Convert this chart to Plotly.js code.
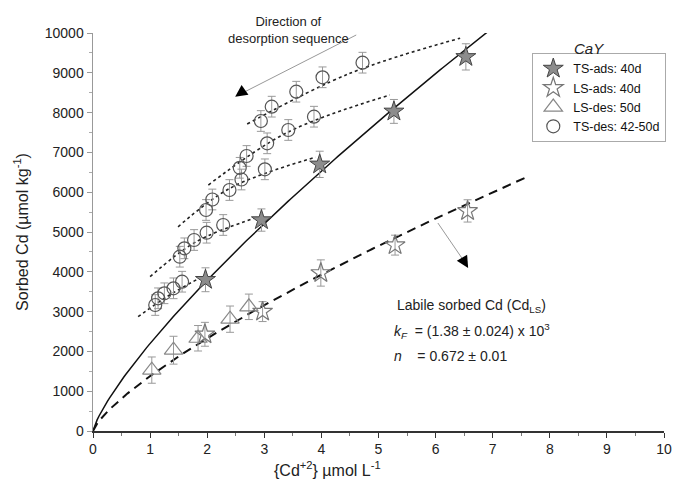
<!DOCTYPE html>
<html>
<head>
<meta charset="utf-8">
<script src="https://cdn.plot.ly/plotly-3.0.1.min.js"></script>
<style>html,body{margin:0;padding:0;background:#fff;}#chart{width:676px;height:492px;}</style>
</head>
<body>
<div id="chart"></div>
<script>
// ---- data ----
const tsAdsX = [1.97, 2.95, 3.97, 5.27, 6.53];
const tsAdsY = [3800, 5300, 6700, 8030, 9400];
const tsAdsErr = [300, 280, 330, 300, 330];

const lsAdsX = [1.96, 2.97, 3.99, 5.29, 6.56];
const lsAdsY = [2430, 3000, 3970, 4670, 5530];
const lsAdsErr = [300, 250, 330, 250, 280];

const lsDesX = [1.03, 1.41, 1.84, 2.40, 2.73];
const lsDesY = [1530, 2030, 2330, 2810, 3120];
const lsDesErr = [330, 350, 320, 330, 320];

const tsDesX = [1.09, 1.14, 1.25, 1.41, 1.56,
                1.52, 1.60, 1.77, 1.99, 2.28,
                1.98, 2.09, 2.39, 2.60, 3.01,
                2.57, 2.69, 3.05, 3.42, 3.87,
                2.94, 3.13, 3.56, 4.02, 4.72];
const tsDesY = [3166, 3334, 3460, 3585, 3751,
                4379, 4590, 4799, 4982, 5176,
                5553, 5817, 6055, 6319, 6575,
                6613, 6910, 7228, 7563, 7897,
                7789, 8149, 8525, 8887, 9254];
const tsDesErr = 260;

// desorption-sequence guide lines (dotted)
const desLineX = [[0.79, 1.30, 1.85], [1.00, 1.80, 2.90], [1.49, 2.40, 3.90], [2.02, 3.40, 5.20], [2.70, 4.50, 6.43]];
const desLineY = [[2872, 3380, 3830], [3877, 4750, 5380], [5130, 6100, 6880], [6180, 7500, 8442], [7713, 8987, 9870]];

// Freundlich fits drawn in the figure
const tsFit = {k: 2200, n: 0.785, xmax: 7.2};
const lsFit = {k: 1380, n: 0.755, xmax: 7.58};

const xTitle = '{Cd<sup>+2</sup>} µmol L<sup>-1</sup>';
const yTitle = 'Sorbed Cd (µmol kg<sup>-1</sup>)';

function fitCurve(f) {
  const xs = [], ys = [];
  for (let i = 0; i <= 200; i++) { const x = f.xmax * i / 200; xs.push(x); ys.push(f.k * Math.pow(x, f.n)); }
  return {x: xs, y: ys};
}

const traces = [];
desLineX.forEach((xs, i) => traces.push({
  x: xs, y: desLineY[i], mode: 'lines', line: {color: '#222', width: 1.6, dash: '3px,3px', shape: 'spline'},
  showlegend: false, hoverinfo: 'skip'
}));
const tsC = fitCurve(tsFit), lsC = fitCurve(lsFit);
traces.push({x: tsC.x, y: tsC.y, mode: 'lines', line: {color: '#111', width: 1.5}, showlegend: false});
traces.push({x: lsC.x, y: lsC.y, mode: 'lines', line: {color: '#111', width: 2, dash: '9px,6px'}, showlegend: false});

const eb = (arr) => ({type: 'data', array: arr, visible: true, color: '#999', thickness: 1, width: 4});
traces.push({x: tsAdsX, y: tsAdsY, name: 'TS-ads: 40d', mode: 'markers', error_y: eb(tsAdsErr),
  marker: {symbol: 'star', size: 15, color: '#8c8c8c', line: {color: '#444', width: 1}}});
traces.push({x: lsAdsX, y: lsAdsY, name: 'LS-ads: 40d', mode: 'markers', error_y: eb(lsAdsErr),
  marker: {symbol: 'star-open', size: 15, color: '#777', line: {width: 1.2}}});
traces.push({x: lsDesX, y: lsDesY, name: 'LS-des: 50d', mode: 'markers', error_y: eb(lsDesErr),
  marker: {symbol: 'triangle-up-open', size: 16, color: '#888', line: {width: 1.2}}});
traces.push({x: tsDesX, y: tsDesY, name: 'TS-des: 42-50d', mode: 'markers',
  error_y: {type: 'constant', value: tsDesErr, visible: true, color: '#999', thickness: 1, width: 4},
  marker: {symbol: 'circle-open', size: 13, color: '#555', line: {width: 1.2}}});

const F = 'Liberation Sans, Arial, sans-serif';
const layout = {
  width: 676, height: 492,
  margin: {l: 93, r: 12, t: 33, b: 61, autoexpand: false},
  paper_bgcolor: '#fff', plot_bgcolor: '#fff',
  font: {family: F, size: 14, color: '#222'},
  showlegend: true,
  legend: {x: 1.004, y: 0.95, xanchor: 'right', yanchor: 'top', bgcolor: '#fff', bordercolor: '#aaa', borderwidth: 1,
    font: {size: 12.5, color: '#111'}, itemwidth: 30, tracegroupgap: 0},
  xaxis: {range: [0, 10], dtick: 1, tick0: 0, ticks: 'outside', ticklen: 5, tickcolor: '#333', showline: true,
    linecolor: '#333', linewidth: 1.5, showgrid: false, zeroline: false, tickfont: {size: 14},
    minor: {dtick: 0.5, ticks: 'outside', ticklen: 3, tickcolor: '#777'}},
  yaxis: {range: [0, 10000], dtick: 1000, tick0: 0, tickformat: 'd', ticks: 'outside', ticklen: 5, tickcolor: '#999', showline: true,
    linecolor: '#999', linewidth: 1.5, showgrid: false, zeroline: false, tickfont: {size: 14},
    title: {text: yTitle, font: {size: 16}, standoff: 12},
    minor: {dtick: 500, ticks: 'outside', ticklen: 3, tickcolor: '#aaa'}},
  shapes: [
    {type: 'line', xref: 'x', yref: 'y', x0: 4.61, y0: 9950, x1: 2.60, y1: 8480, line: {color: '#999', width: 1}},
    {type: 'line', xref: 'x', yref: 'y', x0: 6.04, y0: 5226, x1: 6.52, y1: 4220, line: {color: '#999', width: 1}}
  ],
  annotations: [
    {xref: 'paper', yref: 'paper', x: (327 - 93) / 571, y: -0.065, yanchor: 'top', showarrow: false, text: xTitle, font: {size: 16}},
    {xref: 'x', yref: 'y', x: 2.49, y: 8400, ax: 10, ay: -7, showarrow: true, arrowhead: 2, arrowsize: 1.6, arrowwidth: 1.5, arrowcolor: '#000', text: ''},
    {xref: 'x', yref: 'y', x: 6.57, y: 4095, ax: -6, ay: -10, showarrow: true, arrowhead: 2, arrowsize: 1.6, arrowwidth: 1.5, arrowcolor: '#000', text: ''},
    {xref: 'paper', yref: 'paper', x: (288 - 93) / 571, y: (431 - 12) / 398, showarrow: false, text: 'Direction of<br>desorption sequence', font: {size: 13}},
    {xref: 'paper', yref: 'paper', x: (606 - 93) / 571, y: (431 - 38) / 398, showarrow: false, text: '<i>CaY</i>', font: {size: 15}},
    {xref: 'paper', yref: 'paper', x: (395 - 93) / 571, y: (431 - 317) / 398, xanchor: 'left', showarrow: false, text: 'Labile sorbed Cd (Cd<sub>LS</sub>)', font: {size: 14}},
    {xref: 'paper', yref: 'paper', x: (392 - 93) / 571, y: (431 - 343) / 398, xanchor: 'left', showarrow: false, text: '<i>k<sub>F</sub></i>  = (1.38 ± 0.024) x 10<sup>3</sup>', font: {size: 14}},
    {xref: 'paper', yref: 'paper', x: (392 - 93) / 571, y: (431 - 366) / 398, xanchor: 'left', showarrow: false, text: '<i>n</i>    = 0.672 ± 0.01', font: {size: 14}}
  ]
};
Plotly.newPlot('chart', traces, layout, {displayModeBar: false, staticPlot: true});
</script>
</body>
</html>
